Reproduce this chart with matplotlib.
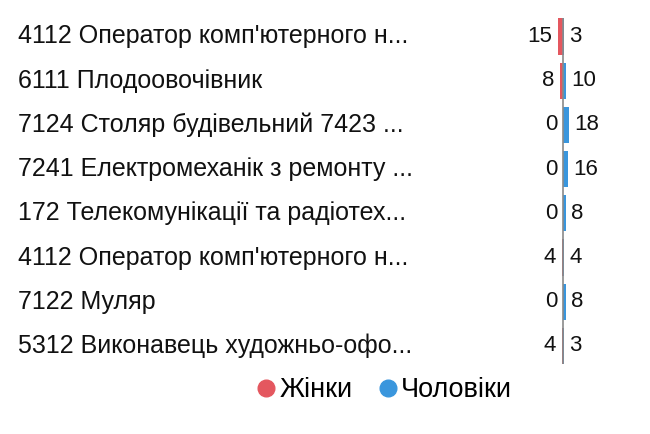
import matplotlib.pyplot as plt
from matplotlib.lines import Line2D

plt.rcParams['font.family'] = ['Liberation Sans', 'DejaVu Sans']

# data
categories = [
    "4112 Оператор комп'ютерного н...",
    "6111 Плодоовочівник",
    "7124 Столяр будівельний 7423 ...",
    "7241 Електромеханік з ремонту ...",
    "172 Телекомунікації та радіотех...",
    "4112 Оператор комп'ютерного н...",
    "7122 Муляр",
    "5312 Виконавець художньо-офо...",
]
women = [15, 8, 0, 0, 0, 4, 0, 4]
men = [3, 10, 18, 16, 8, 4, 8, 3]

RED = '#e4575f'
BLUE = '#3a96dd'
W, H = 650, 434

fig = plt.figure(figsize=(6.5, 4.34), dpi=100)
# rows sit at pixel rows 36.5 .. 346
top_px, row_h = 36.5, 44.2
n = len(categories)
y0 = 1 - (top_px - row_h / 2) / H
y1 = 1 - (top_px + (n - 0.5) * row_h) / H
ax = fig.add_axes([0, y1, 1, y0 - y1])
ax.set_ylim(n - 0.5, -0.5)
px = 1 / 0.34  # data units per pixel
center = 563
ax.set_xlim(-center * px, (W - center) * px)
ax.axis('off')

ys = list(range(n))
ax.barh(ys, [-w for w in women], height=0.82, color=RED, zorder=2)
ax.barh(ys, men, height=0.82, color=BLUE, zorder=2)
ax.vlines(0, -0.41, n - 0.59, color='#8a8a8a', lw=1.2, zorder=3)

for i, (cat, w, m) in enumerate(zip(categories, women, men)):
    ax.text(18 / W, i, cat, transform=ax.get_yaxis_transform(), ha='left',
            va='center', fontsize=18, color='#111111')
    ax.text(-w - 6 * px, i, str(w), ha='right', va='center', fontsize=16,
            color='#111111')
    ax.text(m + 5 * px, i, str(m), ha='left', va='center', fontsize=16,
            color='#111111')

handles = [
    Line2D([], [], marker='o', ls='', color=RED, markersize=12, label='Жінки'),
    Line2D([], [], marker='o', ls='', color=BLUE, markersize=12, label='Чоловіки'),
]
fig.legend(handles=handles, loc='center', bbox_to_anchor=(0.588, 1 - 390 / H),
           ncol=2, frameon=False, fontsize=19.5, handletextpad=0.0,
           columnspacing=0.8, handlelength=1.0, borderpad=0)

fig.savefig('out.png', dpi=100, facecolor='white')
